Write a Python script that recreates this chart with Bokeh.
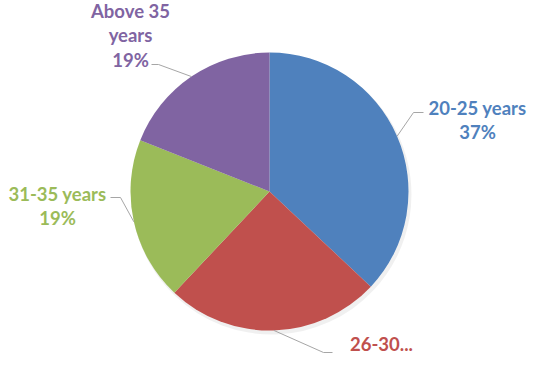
import math
from bokeh.plotting import figure
from bokeh.models import Range1d
from bokeh.core.properties import value
from bokeh.embed import file_html
from bokeh.resources import INLINE

# ---- data ----
categories = ["20-25 years", "26-30 years", "31-35 years", "Above 35 years"]
shares = [37, 25, 19, 19]
label_lines = [["20-25 years", "{p}%"], ["26-30..."], ["31-35 years", "{p}%"], ["Above 35", "years", "{p}%"]]
colors = ["#4F81BD", "#C0504D", "#9BBB59", "#8064A2"]

# ---- layout (reference pixel coordinates) ----
H = 370
def Y(ry):
    return H - ry

CX, CY, R = 269, 191, 139
FONT = "Lato"
FS = "18.5px"
LINE_STEP = 24.5
# label anchors: (center x, first line center y)
label_pos = [(477, 107), (381, 343), (57, 193), (130, 10)]
# leader elbows: (elbow point, end point)
leader_pts = [((413, 112), (423, 112)), ((323, 352), (332, 352)),
              ((120, 197), (110, 197)), ((158, 64), (151, 64))]

p = figure(width=529, height=354, output_backend="svg", toolbar_location=None,
           x_range=Range1d(0, 529), y_range=Range1d(Y(354), Y(0)),
           min_border=0, outline_line_color=None)
p.axis.visible = False
p.grid.visible = False
p.background_fill_color = "white"
p.border_fill_color = "white"

total = float(sum(shares))
cum = 0.0
for i, s in enumerate(shares):
    a0 = math.pi / 2 - 2 * math.pi * cum / total
    a1 = math.pi / 2 - 2 * math.pi * (cum + s) / total
    cum += s
    # soft shadow
    p.wedge(x=CX + 2, y=Y(CY + 3), radius=R + 1, start_angle=a0, end_angle=a1,
            direction="clock", fill_color="#000000", fill_alpha=0.06, line_color=None)

cum = 0.0
for i, s in enumerate(shares):
    a0 = math.pi / 2 - 2 * math.pi * cum / total
    a1 = math.pi / 2 - 2 * math.pi * (cum + s) / total
    mid_ang = 2 * math.pi * (cum + s / 2) / total
    cum += s
    p.wedge(x=CX, y=Y(CY), radius=R, start_angle=a0, end_angle=a1,
            direction="clock", fill_color=colors[i], line_color=None)
    # leader line from the pie edge at slice middle
    ex = CX + R * math.sin(mid_ang)
    ey = CY - R * math.cos(mid_ang)
    (bx, by), (tx, ty) = leader_pts[i]
    p.line(x=[ex, bx, tx], y=[Y(ey), Y(by), Y(ty)], line_color="#A6A6A6", line_width=1)
    # label
    lx, ly = label_pos[i]
    lines = [t.format(p=s) for t in label_lines[i]]
    xs = [lx] * len(lines)
    ys = [Y(ly + k * LINE_STEP) for k in range(len(lines))]
    p.text(x=xs, y=ys, text=lines, text_font=value(FONT), text_font_style="bold",
           text_font_size=FS, text_color=colors[i], text_align="center",
           text_baseline="middle")

open("out.html", "w").write(file_html(p, INLINE))
